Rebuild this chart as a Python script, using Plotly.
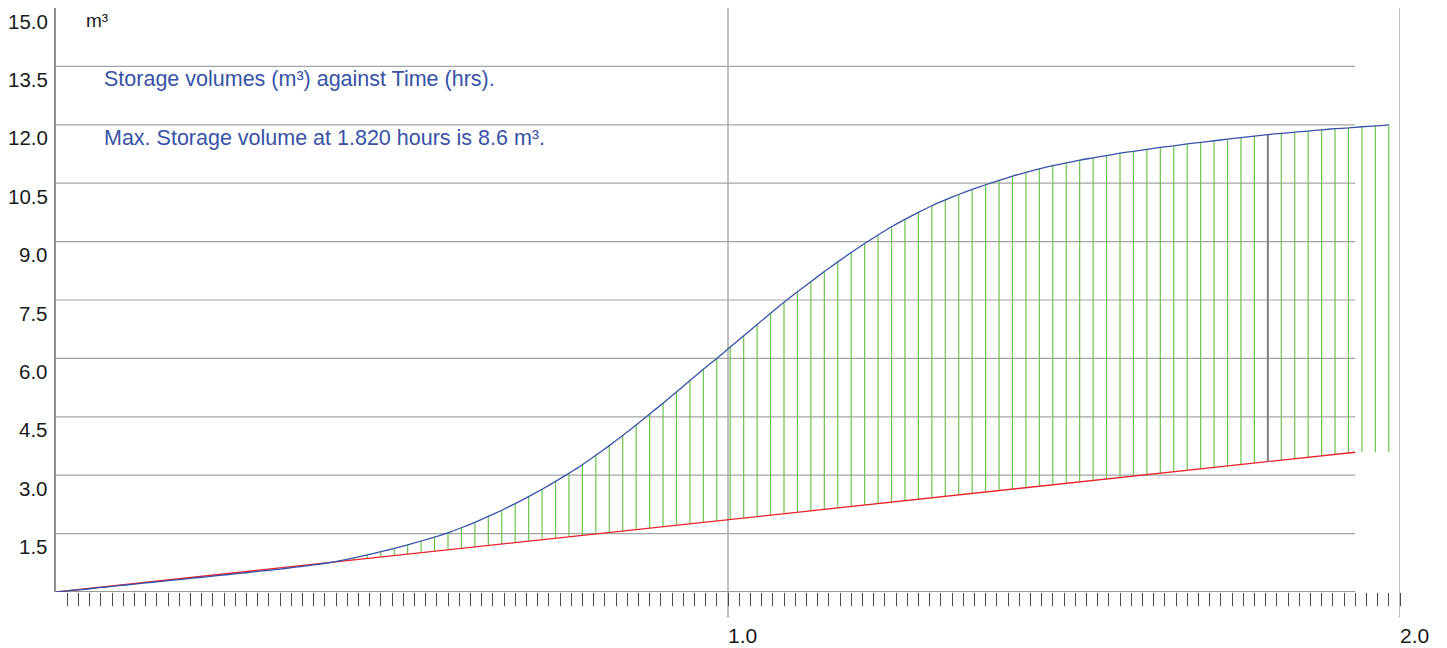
import numpy as np
import plotly.graph_objects as go

# ---------------- data ----------------
# sample times of the storage curve (minutes)
time_min = [0.0,
    0.2, 1.4, 2.6, 3.8, 5.0, 6.2, 7.4, 8.6, 9.8, 11.0,
    12.2, 13.4, 14.6, 15.8, 17.0, 18.2, 19.4, 20.6, 21.8, 23.0,
    24.2, 25.4, 26.6, 27.8, 29.0, 30.2, 31.4, 32.6, 33.8, 35.0,
    36.2, 37.4, 38.6, 39.8, 41.0, 42.2, 43.4, 44.6, 45.8, 47.0,
    48.2, 49.4, 50.6, 51.8, 53.0, 54.2, 55.4, 56.6, 57.8, 59.0,
    60.2, 61.4, 62.6, 63.8, 65.0, 66.2, 67.4, 68.6, 69.8, 71.0,
    72.2, 73.4, 74.6, 75.8, 77.0, 78.2, 79.4, 80.6, 81.8, 83.0,
    84.2, 85.4, 86.6, 87.8, 89.0, 90.2, 91.4, 92.6, 93.8, 95.0,
    96.2, 97.4, 98.6, 99.8, 101.0, 102.2, 103.4, 104.6, 105.8, 107.0,
    108.2, 109.4, 110.6, 111.8, 113.0, 114.2, 115.4, 116.6, 117.8, 119.0]

# cumulative inflow volume (blue curve, m3)
inflow_m3 = [0.0,
    0.005, 0.04, 0.07, 0.11, 0.145, 0.18, 0.215, 0.25, 0.285, 0.32,
    0.355, 0.39, 0.425, 0.46, 0.495, 0.535, 0.57, 0.61, 0.65, 0.695,
    0.745, 0.805, 0.875, 0.955, 1.035, 1.12, 1.21, 1.31, 1.41, 1.52,
    1.65, 1.79, 1.94, 2.10, 2.27, 2.45, 2.64, 2.84, 3.05, 3.27,
    3.51, 3.76, 4.02, 4.29, 4.57, 4.85, 5.14, 5.43, 5.72, 6.00,
    6.29, 6.58, 6.87, 7.16, 7.44, 7.71, 7.97, 8.23, 8.48, 8.72,
    8.95, 9.17, 9.38, 9.57, 9.75, 9.92, 10.07, 10.21, 10.34, 10.46,
    10.57, 10.68, 10.78, 10.87, 10.95, 11.02, 11.09, 11.15, 11.21, 11.27,
    11.32, 11.37, 11.42, 11.46, 11.51, 11.55, 11.59, 11.63, 11.67, 11.71,
    11.75, 11.78, 11.81, 11.84, 11.87, 11.90, 11.92, 11.95, 11.97, 12.00]

# cumulative outflow volume (red line, m3)
outflow_time_min = [0.0, 30.0, 60.0, 90.0, 116.0]
outflow_m3 = [0.0, 0.93, 1.86, 2.79, 3.59]

max_marker_min = 108.2          # highlighted (dark) hatch line
y_tick_vals = [1.5, 3.0, 4.5, 6.0, 7.5, 9.0, 10.5, 12.0, 13.5, 15.0]
y_tick_text = ["1.5", "3.0", "4.5", "6.0", "7.5", "9.0", "10.5", "12.0", "13.5", "15.0"]
x_label_vals = [1.0, 2.0]
x_label_text = ["1.0", "2.0"]
minute_ticks = list(range(1, 121))
grid_end_min = 116.0

unit_text = "m³"
title_text = "Storage volumes (m³) against Time (hrs)."
max_text = "Max. Storage volume at 1.820 hours is 8.6 m³."

# ---------------- derived ----------------
t_h = np.array(time_min) / 60.0
inflow = np.array(inflow_m3)
out_t_h = np.array(outflow_time_min) / 60.0
out_v = np.array(outflow_m3)

hx, hy = [], []
for t, b in zip(t_h[1:], inflow[1:]):
    r = float(np.interp(t, out_t_h, out_v))
    if b > r:
        hx += [t, t, None]
        hy += [r, b, None]

k = time_min.index(max_marker_min)
mt = t_h[k]
mr = float(np.interp(mt, out_t_h, out_v))

FONT = "Liberation Sans, Arial, sans-serif"
GRID = "#a3a3a3"

fig = go.Figure()
fig.add_trace(go.Scatter(x=hx, y=hy, mode="lines",
                         line=dict(color="#6cc54e", width=1.2), hoverinfo="skip"))
fig.add_trace(go.Scatter(x=out_t_h, y=out_v, mode="lines",
                         line=dict(color="#e8232a", width=1.3), hoverinfo="skip"))
fig.add_trace(go.Scatter(x=[mt, mt], y=[mr, inflow[k]], mode="lines",
                         line=dict(color="#808080", width=2), hoverinfo="skip"))
fig.add_trace(go.Scatter(x=t_h, y=inflow, mode="lines",
                         line=dict(color="#3452a8", width=1.3, shape="spline", smoothing=0.6),
                         hoverinfo="skip"))

shapes = []
for v in y_tick_vals[:-1]:
    shapes.append(dict(type="line", xref="x", yref="y", x0=0, x1=grid_end_min / 60.0,
                       y0=v, y1=v, line=dict(color=GRID, width=1.2), layer="below"))
shapes.append(dict(type="line", xref="x", yref="y", x0=0, x1=grid_end_min / 60.0,
                   y0=0, y1=0, line=dict(color="#999999", width=2), layer="below"))
for v in x_label_vals:
    shapes.append(dict(type="line", xref="x", yref="paper", x0=v, x1=v,
                       y0=-26 / 584, y1=1, line=dict(color="#a8a8a8", width=1.5),
                       layer="below"))
fig.update_layout(shapes=shapes)

ann = []
for v, s in zip(y_tick_vals, y_tick_text):
    ann.append(dict(x=0, y=v, xref="x", yref="y", text=s, showarrow=False,
                    xanchor="right", yanchor="middle", yshift=-13, xshift=-6,
                    font=dict(family=FONT, size=20.5, color="#1a1a1a")))
for v, s in zip(x_label_vals, x_label_text):
    ann.append(dict(x=v, y=0, xref="x", yref="y", text=s, showarrow=False,
                    xanchor="left", yanchor="middle", yshift=-43, xshift=-2,
                    font=dict(family=FONT, size=21, color="#1a1a1a")))
ann.append(dict(x=0, y=15.0, xref="x", yref="y", text=unit_text, showarrow=False,
                xanchor="left", yanchor="middle", yshift=-12, xshift=28,
                font=dict(family=FONT, size=19, color="#1a1a1a")))
ann.append(dict(x=0, y=13.5, xref="x", yref="y", text=title_text, showarrow=False,
                xanchor="left", yanchor="middle", yshift=-13, xshift=46,
                font=dict(family=FONT, size=21.5, color="#3653a7")))
ann.append(dict(x=0, y=12.0, xref="x", yref="y", text=max_text, showarrow=False,
                xanchor="left", yanchor="middle", yshift=-13, xshift=46,
                font=dict(family=FONT, size=21.5, color="#3653a7")))
fig.update_layout(annotations=ann)

# page body has an 8px default margin: shrink the figure to keep the same pixel layout
fig.update_layout(
    width=1439, height=640,
    margin=dict(l=48, r=47, t=0, b=56),
    paper_bgcolor="white", plot_bgcolor="white",
    showlegend=False,
    xaxis=dict(range=[0, 2.0], showgrid=False, zeroline=False, showline=False,
               tickmode="array", tickvals=[m / 60.0 for m in minute_ticks],
               showticklabels=False, ticks="outside", ticklen=13, tickwidth=1,
               tickcolor="#4a4a4a"),
    yaxis=dict(range=[0, 15.0], showgrid=False, zeroline=False,
               showline=True, linecolor="#8f8f8f", linewidth=2,
               showticklabels=False, ticks=""),
)

fig.write_html("out.html")
